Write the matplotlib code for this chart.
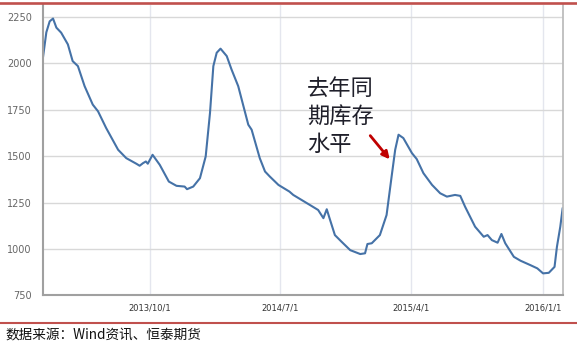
import matplotlib
matplotlib.use("Agg")
import matplotlib.pyplot as plt
from matplotlib.lines import Line2D
from matplotlib.patches import FancyArrowPatch
import pandas as pd

plt.rcParams['font.family'] = ['DejaVu Sans', 'Noto Sans CJK SC']

dates = [
    "2013-02-20", "2013-02-27", "2013-03-06", "2013-03-13", "2013-03-20", "2013-03-30",
    "2013-04-13", "2013-04-23", "2013-05-04", "2013-05-18", "2013-06-04", "2013-06-15",
    "2013-07-02", "2013-07-27", "2013-08-13", "2013-09-03", "2013-09-10", "2013-09-17",
    "2013-09-23", "2013-09-27", "2013-10-07", "2013-10-22", "2013-11-10", "2013-11-26",
    "2013-12-13", "2013-12-18", "2013-12-31", "2014-01-14", "2014-01-26", "2014-02-04",
    "2014-02-11", "2014-02-18", "2014-02-26", "2014-03-11", "2014-03-21", "2014-04-04",
    "2014-04-25", "2014-05-02", "2014-05-19", "2014-05-30", "2014-06-09", "2014-06-27",
    "2014-07-20", "2014-07-28", "2014-09-04", "2014-09-18", "2014-09-29", "2014-10-06",
    "2014-10-13", "2014-10-23", "2014-11-06", "2014-11-24", "2014-12-15", "2014-12-25",
    "2014-12-30", "2015-01-08", "2015-01-25", "2015-02-08", "2015-02-19", "2015-02-26",
    "2015-03-05", "2015-03-15", "2015-04-02", "2015-04-12", "2015-04-26", "2015-05-14",
    "2015-05-31", "2015-06-14", "2015-07-01", "2015-07-12", "2015-07-22", "2015-08-12",
    "2015-08-30", "2015-09-07", "2015-09-16", "2015-09-28", "2015-10-06", "2015-10-14",
    "2015-11-01", "2015-11-15", "2015-12-05", "2015-12-20", "2016-01-01", "2016-01-13",
    "2016-01-25", "2016-01-30", "2016-02-06", "2016-02-11",
]
inventory = [
    2031, 2166, 2225, 2240, 2191, 2164,
    2101, 2011, 1984, 1876, 1777, 1741,
    1651, 1534, 1489, 1459, 1448, 1462,
    1471, 1459, 1507, 1453, 1363, 1340,
    1336, 1322, 1336, 1381, 1498, 1732,
    1984, 2056, 2078, 2038, 1966, 1876,
    1669, 1642, 1489, 1417, 1390, 1345,
    1309, 1291, 1232, 1210, 1166, 1214,
    1156, 1075, 1039, 994, 973, 977,
    1027, 1031, 1075, 1183, 1399, 1534,
    1615, 1597, 1516, 1484, 1408, 1345,
    1300, 1282, 1291, 1286, 1228, 1120,
    1066, 1075, 1048, 1034, 1081, 1031,
    958, 937, 914, 896, 869, 872,
    904, 1012, 1120, 1221,
]
x_ticks = ["2013-10-01", "2014-07-01", "2015-04-01", "2016-01-01"]
x_tick_labels = ["2013/10/1", "2014/7/1", "2015/4/1", "2016/1/1"]
y_ticks = [750, 1000, 1250, 1500, 1750, 2000, 2250]

note = "去年同\n期库存\n水平"
source = "数据来源：Wind资讯、恒泰期货"

fig = plt.figure(figsize=(5.77, 3.43), dpi=100)
ax = fig.add_axes([0.0745, 0.1385, 0.9015, 0.847])

ax.plot(pd.to_datetime(dates), inventory, color="#4572a7", lw=1.5,
        solid_joinstyle="round", solid_capstyle="round")

ax.set_ylim(750, 2313)
ax.set_xlim(pd.Timestamp("2013-02-20"), pd.Timestamp("2016-02-12"))
ax.set_yticks(y_ticks)
ax.set_yticklabels([str(v) for v in y_ticks], fontsize=7, color="#666666")
ax.set_xticks(pd.to_datetime(x_ticks))
ax.set_xticklabels(x_tick_labels, fontsize=6, color="#333333")
ax.tick_params(axis="both", length=0)
ax.tick_params(axis="y", pad=8)
ax.tick_params(axis="x", pad=6)

ax.grid(axis="y", color="#d8d8d8", lw=1.0)
ax.grid(axis="x", color="#e4e6ee", lw=1.0)
ax.set_axisbelow(True)

ax.spines["top"].set_visible(False)
ax.spines["left"].set_color("#a0a0a0")
ax.spines["left"].set_linewidth(1.5)
ax.spines["bottom"].set_color("#a0a0a0")
ax.spines["bottom"].set_linewidth(1.5)
ax.spines["right"].set_color("#bdbdbd")
ax.spines["right"].set_linewidth(1.3)

# red rules top and bottom
fig.add_artist(Line2D([0, 1], [0.9913, 0.9913], color="#c0504d", lw=1.9, transform=fig.transFigure))
fig.add_artist(Line2D([0, 1], [0.0592, 0.0592], color="#c0504d", lw=1.5, transform=fig.transFigure))

fig.text(0.5315, 0.7755, note, fontsize=16, color="#1f1f2a", va="top", ha="left",
         linespacing=1.28, family=["Noto Sans CJK SC", "DejaVu Sans"])
fig.add_artist(FancyArrowPatch((0.6386, 0.6108), (0.6785, 0.5292), transform=fig.transFigure,
                               arrowstyle="-|>", mutation_scale=11, lw=2.0, color="#c00000"))

fig.text(0.0087, 0.0233, source, fontsize=9.8, color="#111111", va="center", ha="left",
         family=["Noto Sans CJK SC", "DejaVu Sans"])

fig.savefig("out.png", dpi=100)
